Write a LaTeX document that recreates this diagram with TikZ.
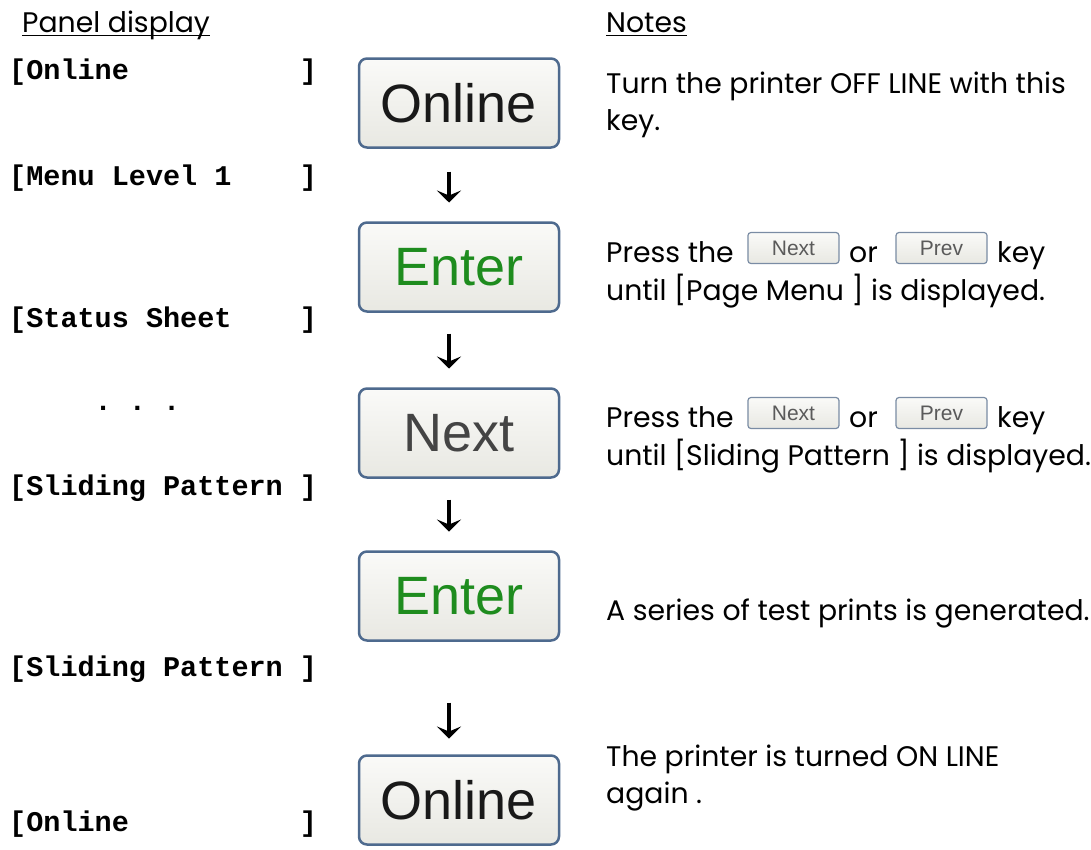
\documentclass[tikz,border=0pt]{standalone}
\usepackage{fontspec}
\setmainfont{Poppins}
\newfontfamily\monob{Liberation Mono}
\newfontfamily\keyfont{Liberation Sans}
\usetikzlibrary{arrows.meta}
\definecolor{btnborder}{HTML}{4E6A8E}
\definecolor{btntop}{HTML}{FAFAF8}
\definecolor{btnbot}{HTML}{E8E8E2}
\definecolor{entergreen}{HTML}{1E8C1E}
\definecolor{nextgray}{HTML}{444444}
\definecolor{smallkeytext}{HTML}{5A5A5A}
\definecolor{smallkeyborder}{HTML}{7A8CA4}
\tikzset{
  panel/.style={font=\monob\bfseries\fontsize{28.5}{32}\selectfont, anchor=west, inner sep=0pt},
  note/.style={font=\fontsize{28.3}{34}\selectfont, anchor=base west, inner sep=0pt},
  keybtn/.style={draw=btnborder, line width=2.5pt, rounded corners=8pt, top color=btntop, bottom color=btnbot,
    minimum width=200pt, minimum height=89pt, inner sep=0pt, outer sep=0pt,
    font=\keyfont\fontsize{54}{60}\selectfont},
  smallkey/.style={draw=smallkeyborder, line width=1.2pt, rounded corners=3pt, top color=btntop, bottom color=btnbot,
    minimum width=91pt, minimum height=31pt, inner sep=0pt, outer sep=0pt,
    font=\keyfont\fontsize{21}{24}\selectfont, text=smallkeytext},
  flow/.style={line width=3.5pt, -{Stealth[length=12pt,width=24pt,inset=5pt]}},
  uline/.style={line width=1.8pt}
}
\begin{document}
\begin{tikzpicture}[x=1pt,y=-1pt]
\useasboundingbox[fill=white] (0,0) rectangle (1091,849);
% headings
\node[note] (hpanel) at (22,32) {Panel display};
\draw[uline] ([yshift=-3.5pt]hpanel.base west) -- ([yshift=-3.5pt]hpanel.base east);
\node[note] (hnotes) at (606,32) {Notes};
\draw[uline] ([yshift=-3.5pt]hnotes.base west) -- ([yshift=-3.5pt]hnotes.base east);
% panel display column
\node[panel] (p1) at (9,72) {[Online~~~~~~~~~~]};
\node[panel] (p2) at (9,178) {[Menu~Level~1~~~~]};
\node[panel] (p3) at (9,320) {[Status~Sheet~~~~]};
\node[panel] (p4) at (9,408) {~~~~~.~.~.};
\node[panel] (p5) at (9,488) {[Sliding~Pattern~]};
\node[panel] (p6) at (9,669) {[Sliding~Pattern~]};
\node[panel] (p7) at (9,824) {[Online~~~~~~~~~~]};
% keys
\node[keybtn, text=black!90] (b1) at (459,103) {Online};
\node[keybtn, text=entergreen] (b2) at (459,267) {Enter};
\node[keybtn, text=nextgray] (b3) at (459,433) {Next};
\node[keybtn, text=entergreen] (b4) at (459,596) {Enter};
\node[keybtn, text=black!90] (b5) at (459,800) {Online};
% arrows
\draw[flow, shorten <=24pt, shorten >=20pt] ([xshift=-10pt]b1.south) -- ([xshift=-10pt]b2.north);
\draw[flow, shorten <=22pt, shorten >=20pt] ([xshift=-10pt]b2.south) -- ([xshift=-10pt]b3.north);
\draw[flow, shorten <=22pt, shorten >=20pt] ([xshift=-10pt]b3.south) -- ([xshift=-10pt]b4.north);
\draw[flow, shorten <=62pt, shorten >=17pt] ([xshift=-10pt]b4.south) -- ([xshift=-10pt]b5.north);
% notes
\node[note] (n1) at (606,93) {Turn the printer OFF LINE with this};
\node[note] (n2) at (606,130) {key.};
\node[note] (n3a) at (606,262) {Press the};
\node[smallkey, anchor=west] (k1) at ([xshift=14pt,yshift=14pt]n3a.base east) {Next};
\node[note] (n3b) at ([xshift=10pt]k1.east |- n3a.base) {or};
\node[smallkey, anchor=west] (k2) at ([xshift=18pt,yshift=14pt]n3b.base east) {Prev};
\node[note] (n3c) at ([xshift=10pt]k2.east |- n3a.base) {key};
\node[note] (n4) at (606,300) {until [Page Menu ] is displayed.};
\node[note] (n5a) at (606,427) {Press the};
\node[smallkey, anchor=west] (k3) at ([xshift=14pt,yshift=14pt]n5a.base east) {Next};
\node[note] (n5b) at ([xshift=10pt]k3.east |- n5a.base) {or};
\node[smallkey, anchor=west] (k4) at ([xshift=18pt,yshift=14pt]n5b.base east) {Prev};
\node[note] (n5c) at ([xshift=10pt]k4.east |- n5a.base) {key};
\node[note] (n6) at (606,465) {until [Sliding Pattern ] is displayed.};
\node[note] (n7) at (606,620) {A series of test prints is generated.};
\node[note] (n8) at (606,766) {The printer is turned ON LINE};
\node[note] (n9) at (606,803) {again .};
\end{tikzpicture}
\end{document}
